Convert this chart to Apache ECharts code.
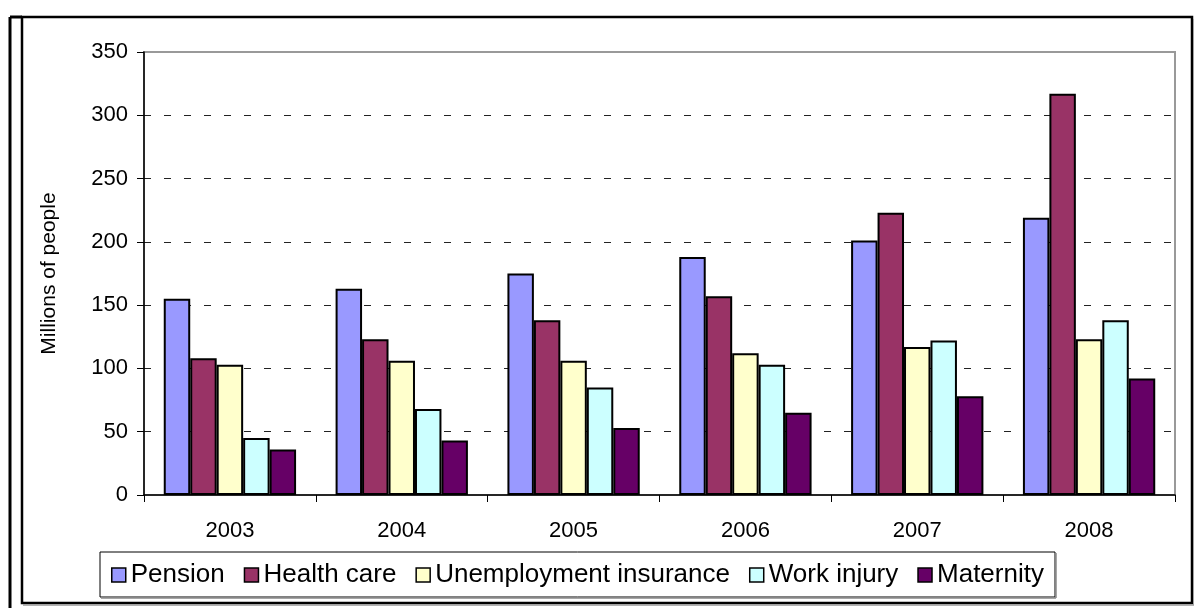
<!DOCTYPE html>
<html>
<head>
<meta charset="utf-8">
<script src="https://cdn.jsdelivr.net/npm/echarts@6/dist/echarts.min.js"></script>
<style>
html,body{margin:0;padding:0;background:#fff;}
#chart{width:1194px;height:608px;}
</style>
</head>
<body>
<div id="chart"></div>
<script>
const years = ['2003', '2004', '2005', '2006', '2007', '2008'];
const pension = [155, 163, 175, 188, 201, 219];
const healthCare = [108, 123, 138, 157, 223, 317];
const unemployment = [103, 106, 106, 112, 117, 123];
const workInjury = [45, 68, 85, 103, 122, 138];
const maternity = [36, 43, 53, 65, 78, 92];
const yTicks = [0, 50, 100, 150, 200, 250, 300, 350];

const seriesDefs = [
  { name: 'Pension', data: pension, color: '#9999FF' },
  { name: 'Health care', data: healthCare, color: '#993366' },
  { name: 'Unemployment insurance', data: unemployment, color: '#FFFFCC' },
  { name: 'Work injury', data: workInjury, color: '#CCFFFF' },
  { name: 'Maternity', data: maternity, color: '#660066' }
];

const FONT = '"Liberation Sans", Arial, sans-serif';
const chart = echarts.init(document.getElementById('chart'), null, { renderer: 'canvas' });

chart.setOption({
  animation: false,
  backgroundColor: '#ffffff',
  textStyle: { fontFamily: FONT, color: '#000' },
  grid: {
    left: 144, right: 19, top: 52, bottom: 113,
    show: true, borderColor: '#999999', borderWidth: 2, backgroundColor: 'transparent'
  },
  legend: {
    left: 111, top: 562, padding: 0,
    itemWidth: 14, itemHeight: 14, itemGap: 19,
    icon: 'rect',
    textStyle: { fontFamily: FONT, fontSize: 26, color: '#000' },
    itemStyle: { borderColor: '#000', borderWidth: 1.5 },
    data: seriesDefs.map(s => s.name)
  },
  xAxis: {
    type: 'category',
    data: years,
    boundaryGap: true,
    axisLine: { show: true, lineStyle: { color: '#000', width: 1.5 } },
    axisTick: { show: true, length: 7, lineStyle: { color: '#000', width: 1 } },
    axisLabel: { fontFamily: FONT, fontSize: 22, color: '#000', margin: 25 },
    splitLine: { show: false }
  },
  yAxis: {
    type: 'value',
    min: yTicks[0], max: yTicks[yTicks.length - 1], interval: 50,
    name: 'Millions of people',
    nameLocation: 'middle',
    nameGap: 84,
    nameTextStyle: { fontFamily: FONT, fontSize: 21, color: '#000' },
    axisLine: { show: true, lineStyle: { color: '#000', width: 1.5 } },
    axisTick: { show: true, length: 7, lineStyle: { color: '#000', width: 1 } },
    axisLabel: { fontFamily: FONT, fontSize: 22, color: '#000', margin: 16 },
    splitLine: {
      show: true, showMinLine: false, showMaxLine: false,
      lineStyle: { color: '#222', type: [7, 13], width: 1 }
    }
  },
  series: seriesDefs.map(s => ({
    name: s.name,
    type: 'bar',
    data: s.data,
    barGap: '0%',
    barCategoryGap: '23%',
    itemStyle: { color: s.color, borderColor: '#000', borderWidth: 2 }
  })),
  graphic: [
    { type: 'line', shape: { x1: 10, y1: 17, x2: 10, y2: 608 }, style: { stroke: '#000', lineWidth: 3 }, silent: true },
    { type: 'line', shape: { x1: 10, y1: 17, x2: 22, y2: 17 }, style: { stroke: '#000', lineWidth: 3 }, silent: true },
    { type: 'rect', shape: { x: 22, y: 17, width: 1170, height: 586 }, style: { fill: 'none', stroke: '#000', lineWidth: 2.5 }, silent: true },
    { type: 'line', shape: { x1: 1194, y1: 19, x2: 1194, y2: 605 }, style: { stroke: '#999', lineWidth: 1.5 }, silent: true },
    { type: 'line', shape: { x1: 23, y1: 605, x2: 1194, y2: 605 }, style: { stroke: '#999', lineWidth: 1.5 }, silent: true },
    { type: 'rect', shape: { x: 100, y: 552, width: 955, height: 45 }, style: { fill: 'none', stroke: '#000', lineWidth: 1 }, z: -1, silent: true },
    { type: 'line', shape: { x1: 101, y1: 598, x2: 1056, y2: 598 }, style: { stroke: '#888', lineWidth: 1.5 }, silent: true },
    { type: 'line', shape: { x1: 1056, y1: 553, x2: 1056, y2: 598 }, style: { stroke: '#888', lineWidth: 1.5 }, silent: true }
  ]
});
</script>
</body>
</html>
